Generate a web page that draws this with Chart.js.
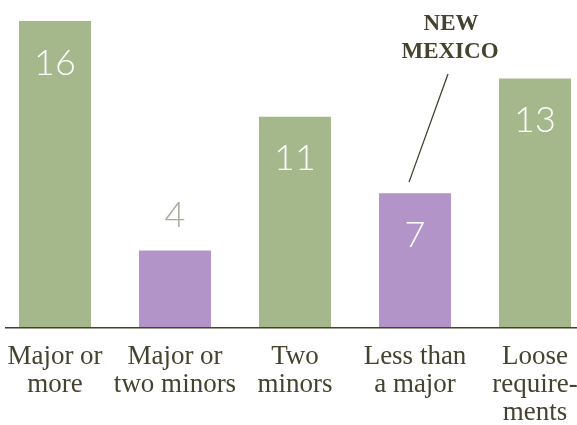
<!DOCTYPE html>
<html>
<head>
<meta charset="utf-8">
<script src="https://cdn.jsdelivr.net/npm/chart.js@4"></script>
<style>
	html, body { margin: 0; padding: 0; background: #fff; overflow: hidden; }
	#wrap { position: absolute; left: -5px; top: 0; width: 600px; height: 425px; }
</style>
</head>
<body>
<div id="wrap"><canvas id="majors-chart" width="600" height="425"></canvas></div>
<script>
var categories = [
	['Major or', 'more'],
	['Major or', 'two minors'],
	['Two', 'minors'],
	['Less than', 'a major'],
	['Loose', 'require-', 'ments']
];
var counts = [16, 4, 11, 7, 13];
var barColors = ['#a5b88b', '#b394c8', '#a5b88b', '#b394c8', '#a5b88b'];
var insideLabel = [true, false, true, true, true];
var calloutText = ['NEW', 'MEXICO'];
var calloutIndex = 3;

var ink = '#45432f';

var valueLabels = {
	id: 'valueLabels',
	afterDatasetsDraw: function(chart) {
		var ctx = chart.ctx;
		var meta = chart.getDatasetMeta(0);
		ctx.save();
		ctx.font = '300 36px Lato, "Open Sans", sans-serif';
		ctx.textAlign = 'center';
		ctx.textBaseline = 'middle';
		for (var i = 0; i < meta.data.length; i++) {
			var bar = meta.data[i];
			if (insideLabel[i]) {
				ctx.fillStyle = '#ffffff';
				ctx.fillText(String(counts[i]), bar.x, bar.y + 42);
			} else {
				ctx.fillStyle = '#a9ab9f';
				ctx.fillText(String(counts[i]), bar.x, bar.y - 35);
			}
		}
		// baseline
		var area = chart.chartArea;
		ctx.strokeStyle = ink;
		ctx.lineWidth = 1.5;
		ctx.beginPath();
		ctx.moveTo(area.left + 10, area.bottom + 0.75);
		ctx.lineTo(chart.width, area.bottom + 0.75);
		ctx.stroke();
		// callout
		var nm = meta.data[calloutIndex];
		ctx.lineWidth = 1.3;
		ctx.beginPath();
		ctx.moveTo(nm.x - 6, nm.y - 11);
		ctx.lineTo(nm.x + 33, 74);
		ctx.stroke();
		ctx.fillStyle = ink;
		ctx.font = 'bold 23px "Liberation Serif", "DejaVu Serif", serif';
		ctx.textBaseline = 'alphabetic';
		ctx.fillText(calloutText[0], nm.x + 36, 30);
		ctx.fillText(calloutText[1], nm.x + 35, 58);
		ctx.restore();
	}
};

var ctx = document.getElementById('majors-chart').getContext('2d');
var majorsChart = new Chart(ctx, {
	type: 'bar',
	data: {
		labels: categories,
		datasets: [{
			data: counts,
			backgroundColor: barColors,
			borderWidth: 0,
			barPercentage: 1,
			categoryPercentage: 0.6
		}]
	},
	options: {
		responsive: false,
		animation: false,
		layout: { padding: { top: 21, left: 0, right: 0, bottom: 0 } },
		plugins: { legend: { display: false }, tooltip: { enabled: false } },
		scales: {
			x: {
				grid: { display: false, drawTicks: false },
				border: { display: false },
				ticks: {
					color: ink,
					padding: 16,
					maxRotation: 0,
					autoSkip: false,
					font: { family: '"Liberation Serif", "DejaVu Serif", serif', size: 27, lineHeight: '28px' }
				},
				afterFit: function(scale) {
					scale.height = 98;
					scale.paddingLeft = 0;
					scale.paddingRight = 0;
				}
			},
			y: {
				display: false,
				min: 0,
				max: 16
			}
		}
	},
	plugins: [valueLabels]
});
</script>
</body>
</html>
